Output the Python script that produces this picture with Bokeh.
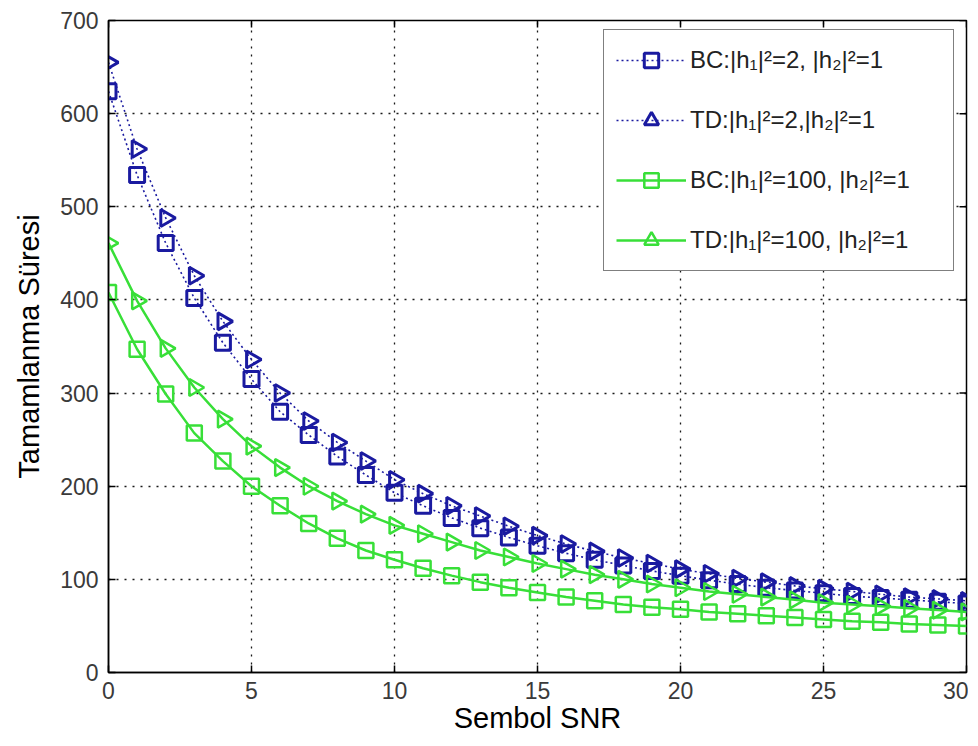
import numpy as np
from bokeh.plotting import figure
from bokeh.models import Range1d, FixedTicker, Legend, LegendItem
from bokeh.embed import file_html
from bokeh.resources import INLINE

# ---- data ----
snr = list(range(31))
bc_h2 = [624, 534, 461, 402, 354, 315, 280, 255, 232, 212, 193, 179, 166, 155, 145,
         136, 128, 121, 115, 109, 104, 99, 95, 91, 88, 85, 82, 80, 78, 76, 74]
td_h2 = [655, 562, 488, 426, 377, 336, 300, 270, 247, 227, 207, 192, 179, 168, 157,
         147, 138, 130, 123, 117, 111, 106, 101, 97, 93, 90, 87, 84, 81, 79, 77]
bc_h100 = [408, 347, 299, 257, 227, 200, 179, 160, 144, 131, 121, 112, 104, 97, 91,
           86, 81, 77, 73, 70, 68, 65, 63, 61, 59, 57, 55, 54, 52, 51, 50]
td_h100 = [461, 399, 348, 306, 272, 243, 220, 200, 184, 170, 158, 149, 140, 131, 124,
           117, 111, 105, 100, 95, 91, 87, 84, 81, 78, 75, 73, 71, 69, 67, 65]

x_ticks = [0, 5, 10, 15, 20, 25, 30]
y_ticks = [0, 100, 200, 300, 400, 500, 600, 700]

labels = ["BC:|h\u2081|\u00b2=2, |h\u2082|\u00b2=1",
          "TD:|h\u2081|\u00b2=2,|h\u2082|\u00b2=1",
          "BC:|h\u2081|\u00b2=100, |h\u2082|\u00b2=1",
          "TD:|h\u2081|\u00b2=100, |h\u2082|\u00b2=1"]

x_label = "Sembol SNR"
y_label = "Tamamlanma Süresi"

BLUE = "#1a1aa0"
GREEN = "#38df38"
FONT = "Liberation Sans"

p = figure(width=968, height=736, output_backend="svg", toolbar_location=None,
           x_range=Range1d(0, 30), y_range=Range1d(0, 700),
           min_border_left=108, min_border_right=2, min_border_top=20,
           min_border_bottom=64, background_fill_color="white",
           border_fill_color="white")

p.outline_line_color = "black"
p.outline_line_width = 1.5

for ax, ticks, lab in ((p.xaxis[0], x_ticks, x_label), (p.yaxis[0], y_ticks, y_label)):
    ax.ticker = FixedTicker(ticks=ticks)
    ax.major_tick_in = 7
    ax.major_tick_out = 0
    ax.minor_tick_line_color = None
    ax.axis_line_color = "black"
    ax.axis_line_width = 1.5
    ax.major_tick_line_width = 1.5
    ax.major_label_text_font = FONT
    ax.major_label_text_font_size = "23px"
    ax.major_label_text_color = "#3a3a3a"
    ax.axis_label = lab
    ax.axis_label_text_font = FONT
    ax.axis_label_text_font_size = "29px"
    ax.axis_label_text_font_style = "normal"
    ax.axis_label_text_color = "black"
p.xaxis.major_label_standoff = 9
p.xaxis.axis_label_standoff = 0
p.yaxis.major_label_standoff = 10
p.yaxis.axis_label_standoff = 12

# inward tick marks on the top and right edges (box on)
p.ray(x=x_ticks, y=[700] * len(x_ticks), length=7, length_units="screen",
      angle=-np.pi / 2, line_color="black", line_width=1.5)
p.ray(x=[30] * len(y_ticks), y=y_ticks, length=7, length_units="screen",
      angle=np.pi, line_color="black", line_width=1.5)

# grid
p.xgrid.ticker = FixedTicker(ticks=x_ticks)
p.ygrid.ticker = FixedTicker(ticks=y_ticks)
for g in (p.xgrid[0], p.ygrid[0]):
    g.grid_line_color = "black"
    g.grid_line_dash = "2 6"
    g.grid_line_width = 1.3
    g.grid_line_alpha = 0.9

# series
r1l = p.line(snr, bc_h2, line_color=BLUE, line_width=1.6, line_dash="2 3")
r1m = p.scatter(snr, bc_h2, marker="square", size=15, line_color=BLUE,
                line_width=3, fill_color=None)
r2l = p.line(snr, td_h2, line_color=BLUE, line_width=1.6, line_dash="2 3")
r2m = p.scatter(snr, td_h2, marker="triangle", angle=-np.pi / 2, size=17,
                line_color=BLUE, line_width=3, fill_color=None)
r3l = p.line(snr, bc_h100, line_color=GREEN, line_width=2.5)
r3m = p.scatter(snr, bc_h100, marker="square", size=15, line_color=GREEN,
                line_width=2.5, fill_color=None)
r4l = p.line(snr, td_h100, line_color=GREEN, line_width=2.5)
r4m = p.scatter(snr, td_h100, marker="triangle", angle=-np.pi / 2, size=17,
                line_color=GREEN, line_width=2.5, fill_color=None)

legend = Legend(items=[LegendItem(label=labels[0], renderers=[r1l, r1m]),
                       LegendItem(label=labels[1], renderers=[r2l, r2m]),
                       LegendItem(label=labels[2], renderers=[r3l, r3m]),
                       LegendItem(label=labels[3], renderers=[r4l, r4m])],
                location=(495, 401), orientation="vertical")
legend.label_text_font = FONT
legend.label_text_font_size = "24px"
legend.label_text_color = "#222222"
legend.glyph_width = 70
legend.glyph_height = 36
legend.label_height = 36
legend.label_width = 251
legend.label_standoff = 4
legend.spacing = 24
legend.padding = 12
legend.margin = 0
legend.border_line_color = "black"
legend.border_line_width = 1.5
legend.background_fill_color = "white"
legend.background_fill_alpha = 1.0
p.add_layout(legend, "center")

open("out.html", "w").write(file_html(p, INLINE))
